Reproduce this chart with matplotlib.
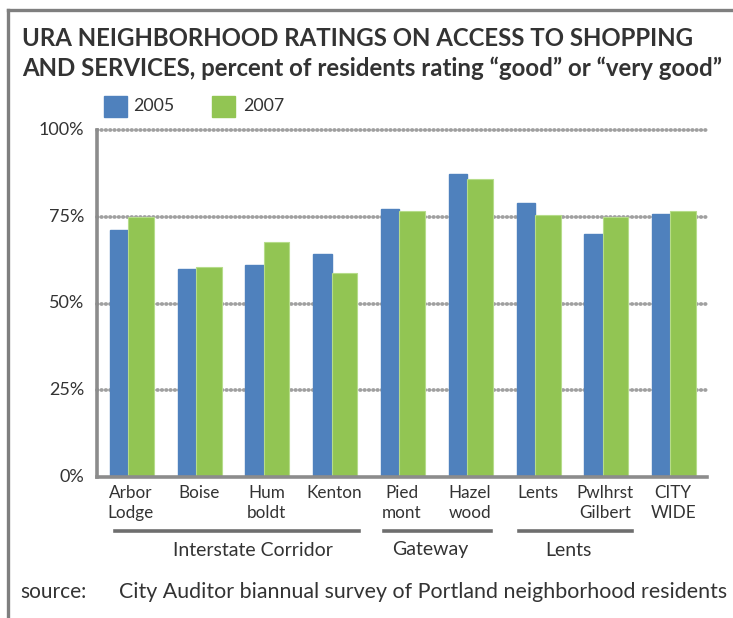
import matplotlib
matplotlib.use("Agg")
import matplotlib.pyplot as plt
from matplotlib.lines import Line2D
from matplotlib.patches import Rectangle
import numpy as np

plt.rcParams['font.family'] = ['Lato', 'DejaVu Sans']

# ---- data ----
neighborhoods = ["Arbor\nLodge", "Boise", "Hum\nboldt", "Kenton", "Pied\nmont",
                 "Hazel\nwood", "Lents", "Pwlhrst\nGilbert", "CITY\nWIDE"]
rating_2005 = [71.3, 59.8, 61.1, 64.2, 77.1, 87.4, 79.1, 70.1, 75.9]
rating_2007 = [74.8, 60.6, 67.7, 58.7, 76.7, 85.8, 75.5, 74.8, 76.7]
districts = ["Interstate Corridor", "Gateway", "Lents"]
y_ticks = [0, 25, 50, 75, 100]
y_tick_labels = ["0%", "25%", "50%", "75%", "100%"]

BLUE = "#4f81bd"
GREEN = "#92c553"
GRAY = "#8c8c8c"
TEXT = "#333333"

W, H = 733, 618
fig = plt.figure(figsize=(W / 100, H / 100), dpi=100)

def fx(px):
    return px / W

def fy(py):
    return 1 - py / H

# outer frame (top and left edges)
fig.add_artist(Line2D([fx(8), fx(733)], [fy(10), fy(10)], color="#7f7f7f", lw=2.4))
fig.add_artist(Line2D([fx(8), fx(8)], [fy(10), fy(618)], color="#7f7f7f", lw=2.4))

# title
fig.text(fx(22), fy(38), "URA NEIGHBORHOOD RATINGS ON ACCESS TO SHOPPING",
         fontsize=17.3, fontweight="bold", color=TEXT, va="center", ha="left")
fig.text(fx(22), fy(68), "AND SERVICES, percent of residents rating \u201cgood\u201d or \u201cvery good\u201d",
         fontsize=17.3, fontweight="bold", color=TEXT, va="center", ha="left")

# axes
ax = fig.add_axes([fx(97), fy(477), fx(707) - fx(97), fy(130) - fy(477)])
x = np.arange(len(neighborhoods))
w_blue, w_green = 0.27, 0.38
split = x - 0.04
for s, v in zip(split, rating_2005):
    ax.add_patch(Rectangle((s - w_blue, 0), w_blue, v, color=BLUE, zorder=3))
ax.bar(split, rating_2007, width=w_green, align="edge", color=GREEN,
       edgecolor="#b6dc8a", linewidth=0.8, zorder=3)

ax.set_xlim(-0.5, len(neighborhoods) - 0.5)
ax.set_ylim(0, 100)

# dotted gridlines
for v in y_ticks[1:]:
    ax.axhline(v, color="#a0a0a0", lw=2.7, linestyle=(0, (0.15, 1.0)),
               dash_capstyle="round", zorder=1, clip_on=False)

for side in ["top", "right"]:
    ax.spines[side].set_visible(False)
for side in ["left", "bottom"]:
    ax.spines[side].set_color(GRAY)
    ax.spines[side].set_linewidth(2.6)
    ax.spines[side].set_zorder(4)

ax.set_yticks(y_ticks)
ax.set_yticklabels(y_tick_labels, fontsize=13, color=TEXT)
ax.tick_params(axis="y", length=0, pad=9)
ax.set_xticks(x)
ax.set_xticklabels(neighborhoods, fontsize=12.3, color=TEXT, linespacing=1.3)
ax.tick_params(axis="x", length=0, pad=6)
for lbl in ax.get_yticklabels():
    lbl.set_verticalalignment("center")

# legend
fig.add_artist(Rectangle((fx(104), fy(117)), fx(23), fy(96) - fy(117), color=BLUE))
fig.text(fx(133), fy(106), "2005", fontsize=12.8, color=TEXT, va="center")
fig.add_artist(Rectangle((fx(212), fy(117)), fx(23), fy(96) - fy(117), color=GREEN))
fig.text(fx(243), fy(106), "2007", fontsize=12.8, color=TEXT, va="center")

# district brackets
bracket_px = [(115, 359), (384, 491), (519, 632)]
label_cx = [253, 430, 568]
for (x0, x1), name, cx in zip(bracket_px, districts, label_cx):
    fig.add_artist(Line2D([fx(x0), fx(x1)], [fy(531), fy(531)], color="#6e6e6e", lw=2.6))
    fig.text(fx(cx), fy(550), name, fontsize=14, color=TEXT, ha="center", va="center")

# source note
fig.text(fx(20), fy(592), "source:", fontsize=15, color=TEXT, va="center")
fig.text(fx(727), fy(592), "City Auditor biannual survey of Portland neighborhood residents",
         fontsize=15.4, color=TEXT, va="center", ha="right")

fig.savefig("out.png", dpi=100)
